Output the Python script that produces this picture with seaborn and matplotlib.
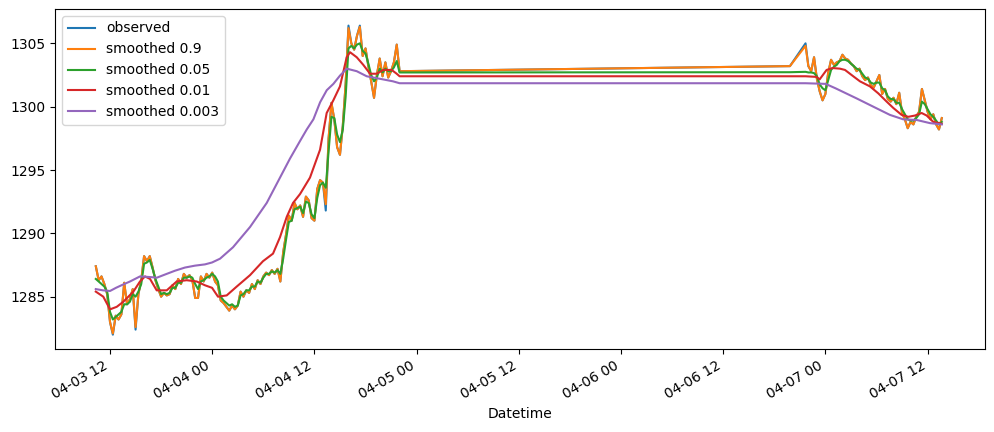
import pandas as pd
import matplotlib
matplotlib.use("Agg")
import matplotlib.pyplot as plt
import matplotlib.dates as mdates
import seaborn as sns

# ============================================================================
# DATA
# ============================================================================
BASE = pd.Timestamp("2019-04-03")

# 20-minute grid for observed / smoothed 0.9 / smoothed 0.05
seg1_times = pd.date_range("2019-04-03 10:20", "2019-04-04 22:00", freq="20min")
lone_time = pd.DatetimeIndex(["2019-04-06 19:50"])
seg2_times = pd.date_range("2019-04-06 21:40", "2019-04-07 13:40", freq="20min")

observed = [
    1287.4, 1286.3, 1286.6, 1286.0, 1285.2, 1283.0, 1282.0, 1283.5, 1283.2, 1283.6, 1286.1, 1284.4,
    1284.8, 1285.6, 1282.4, 1285.2, 1286.3, 1288.2, 1287.8, 1288.2, 1287.3, 1286.3, 1285.6, 1285.0,
    1285.3, 1285.1, 1285.2, 1285.9, 1285.6, 1286.4, 1286.0, 1286.8, 1286.5, 1286.7, 1286.3, 1284.9,
    1284.9, 1286.6, 1286.2, 1286.8, 1286.5, 1286.9, 1286.2, 1285.9, 1284.7, 1284.5, 1284.2, 1283.9,
    1284.3, 1284.0, 1284.3, 1285.4, 1285.0, 1285.5, 1285.3, 1286.0, 1285.6, 1286.3, 1286.0, 1286.6,
    1286.9, 1286.7, 1287.1, 1286.8, 1287.2, 1286.2, 1288.5, 1289.9, 1291.4, 1291.0, 1292.4, 1291.9,
    1292.2, 1291.3, 1292.9, 1292.6, 1291.2, 1291.0, 1293.5, 1294.2, 1294.0, 1291.8, 1297.5, 1300.3,
    1299.0, 1296.8, 1296.2, 1298.5, 1301.8, 1306.4, 1305.0, 1304.5, 1305.6, 1306.4, 1304.0, 1304.6,
    1303.2, 1302.0, 1300.7, 1302.5, 1303.8, 1302.4, 1303.5, 1302.3, 1302.8, 1303.5, 1304.9, 1302.8,
    1303.2,
    1305.0, 1303.2, 1302.8, 1303.9, 1302.2, 1301.2, 1300.5, 1301.0, 1302.7, 1303.7, 1303.3, 1303.5,
    1303.6, 1304.1, 1303.8, 1303.7, 1303.4, 1303.2, 1302.8, 1303.0, 1302.4, 1302.1, 1302.3, 1301.7,
    1301.5, 1302.0, 1302.5, 1301.0, 1301.4, 1300.6, 1300.4, 1300.7, 1300.2, 1301.1, 1299.5, 1299.0,
    1298.3, 1298.8, 1298.6, 1299.2, 1299.6, 1301.4, 1300.5, 1299.6, 1299.0, 1299.4, 1298.6, 1298.2,
    1299.1,
]

smoothed_09 = [
    1287.4, 1286.3, 1286.6, 1286.0, 1285.2, 1283.0, 1282.1, 1283.5, 1283.2, 1283.6, 1286.1, 1284.4,
    1284.8, 1285.6, 1282.6, 1285.2, 1286.3, 1288.2, 1287.8, 1288.2, 1287.3, 1286.3, 1285.6, 1285.0,
    1285.3, 1285.1, 1285.2, 1285.9, 1285.6, 1286.4, 1286.0, 1286.8, 1286.5, 1286.7, 1286.3, 1284.9,
    1284.9, 1286.6, 1286.2, 1286.8, 1286.5, 1286.9, 1286.2, 1285.9, 1284.7, 1284.5, 1284.2, 1283.9,
    1284.3, 1284.0, 1284.3, 1285.4, 1285.0, 1285.5, 1285.3, 1286.0, 1285.6, 1286.3, 1286.0, 1286.6,
    1286.9, 1286.7, 1287.1, 1286.8, 1287.2, 1286.2, 1288.5, 1289.9, 1291.4, 1291.0, 1292.4, 1291.9,
    1292.2, 1291.3, 1292.9, 1292.6, 1291.2, 1291.0, 1293.5, 1294.2, 1294.0, 1292.3, 1297.5, 1300.3,
    1299.0, 1296.8, 1296.2, 1298.5, 1301.8, 1306.2, 1305.0, 1304.5, 1305.6, 1306.3, 1304.0, 1304.6,
    1303.2, 1302.0, 1300.7, 1302.5, 1303.8, 1302.4, 1303.5, 1302.3, 1302.8, 1303.5, 1304.9, 1302.8,
    1303.2,
    1304.8, 1303.2, 1302.8, 1303.9, 1302.2, 1301.2, 1300.5, 1301.0, 1302.7, 1303.7, 1303.3, 1303.5,
    1303.6, 1304.1, 1303.8, 1303.7, 1303.4, 1303.2, 1302.8, 1303.0, 1302.4, 1302.1, 1302.3, 1301.7,
    1301.5, 1302.0, 1302.5, 1301.0, 1301.4, 1300.6, 1300.4, 1300.7, 1300.2, 1301.1, 1299.5, 1299.0,
    1298.3, 1298.8, 1298.6, 1299.2, 1299.6, 1301.4, 1300.5, 1299.6, 1299.0, 1299.4, 1298.6, 1298.2,
    1299.1,
]

smoothed_005 = [
    1286.4, 1286.2, 1286.0, 1285.8, 1285.4, 1283.8, 1283.2, 1283.4, 1283.6, 1283.8, 1284.4, 1284.4,
    1284.6, 1285.2, 1285.0, 1285.4, 1286.0, 1287.6, 1287.7, 1287.9, 1287.2, 1286.4, 1285.8, 1285.2,
    1285.3, 1285.2, 1285.3, 1285.7, 1285.7, 1286.1, 1286.1, 1286.5, 1286.5, 1286.6, 1286.5, 1286.0,
    1285.6, 1286.2, 1286.3, 1286.5, 1286.6, 1286.8, 1286.6, 1286.2, 1285.0, 1284.7, 1284.5, 1284.3,
    1284.4, 1284.2, 1284.3, 1285.1, 1285.2, 1285.5, 1285.5, 1285.8, 1285.8, 1286.2, 1286.1, 1286.5,
    1286.8, 1286.8, 1287.0, 1286.9, 1287.1, 1286.8, 1288.0, 1289.5, 1290.9, 1291.0, 1291.9, 1292.0,
    1292.1, 1291.6, 1292.5, 1292.4, 1291.5, 1291.2, 1292.8, 1293.8, 1294.0, 1293.6, 1296.5, 1299.2,
    1299.1, 1297.8, 1297.2, 1298.2, 1300.8, 1304.6, 1304.8, 1304.6, 1304.9, 1305.0, 1304.4, 1304.2,
    1303.4, 1302.5, 1302.0, 1302.3, 1303.0, 1302.7, 1303.0, 1302.8, 1302.8, 1303.1, 1303.6, 1302.7,
    1302.72,
    1302.75, 1302.7, 1302.7, 1302.65, 1302.4, 1301.75, 1301.45, 1301.3, 1302.1, 1302.9, 1303.15, 1303.3,
    1303.6, 1303.7, 1303.7, 1303.6, 1303.4, 1303.2, 1303.0, 1302.9, 1302.6, 1302.3, 1302.2, 1301.9,
    1301.8, 1301.9, 1301.9, 1301.45, 1301.3, 1300.8, 1300.6, 1300.6, 1300.3, 1300.3, 1299.8, 1299.4,
    1299.0, 1298.9, 1298.9, 1299.1, 1299.4, 1300.4, 1300.2, 1299.8, 1299.4, 1299.2, 1298.9, 1298.6,
    1298.8,
]

# slower smoothers, hours since 04-03 00:00
red_hours = [
    10.33, 11.21, 12.0, 12.79, 13.56, 14.74, 15.52, 16.11, 16.70, 17.48,
    18.66, 19.83, 21.0, 22.18, 23.15, 23.98, 24.68, 25.70, 26.88, 28.44,
    29.96, 31.14, 31.96, 32.75, 33.49, 34.31, 35.48, 36.66, 37.44, 38.22,
    39.0, 39.79, 40.18, 40.97, 41.74, 42.53, 43.31, 44.09, 45.07, 45.66, 46.0,
    91.83, 93.67, 94.97, 95.32, 96.14, 96.84, 97.71, 98.3, 99.27, 100.06,
    101.23, 102.21, 103.19, 103.97, 104.95, 105.73, 106.52, 107.30, 107.89, 108.66, 109.67,
]
smoothed_001 = [
    1285.4, 1285.0, 1284.0, 1284.2, 1284.6, 1285.4, 1286.2, 1286.6, 1286.4, 1285.5,
    1285.5, 1286.2, 1286.3, 1286.2, 1285.9, 1285.7, 1285.0, 1285.1, 1285.8, 1286.7,
    1287.8, 1288.4, 1289.7, 1291.3, 1292.4, 1293.1, 1294.4, 1296.6, 1299.5, 1300.5,
    1301.6, 1303.9, 1304.3, 1303.9, 1303.3, 1302.6, 1302.6, 1302.9, 1302.9, 1302.6, 1302.4,
    1302.4, 1302.4, 1302.35, 1302.15, 1302.9, 1303.05, 1303.0, 1302.9, 1302.4, 1302.0,
    1301.6, 1301.05, 1300.4, 1299.9, 1299.35, 1299.2, 1299.3, 1299.5, 1299.3, 1298.8, 1298.65,
]

purple_hours = [
    10.33, 11.18, 12.0, 12.7, 13.5, 14.35, 15.52, 16.7, 17.5, 18.46,
    19.63, 20.8, 21.98, 23.15, 23.98, 24.92, 26.44, 28.44, 30.4, 31.96,
    33.13, 34.32, 35.1, 35.88, 36.67, 37.45, 38.23, 39.0, 39.8, 40.97,
    42.14, 43.7, 45.23, 46.0,
    91.83, 93.67, 96.02, 97.19, 99.67, 101.62, 103.58, 105.14, 106.72, 108.28, 109.67,
]
smoothed_0003 = [
    1285.6, 1285.5, 1285.45, 1285.7, 1285.95, 1286.2, 1286.6, 1286.55, 1286.5, 1286.75,
    1287.05, 1287.3, 1287.45, 1287.55, 1287.7, 1288.0, 1288.9, 1290.5, 1292.4, 1294.4,
    1295.9, 1297.3, 1298.2, 1299.0, 1300.35, 1301.3, 1301.8, 1302.45, 1303.0, 1302.8,
    1302.4, 1302.2, 1302.0, 1301.85,
    1301.85, 1301.85, 1301.8, 1301.45, 1300.65, 1300.0, 1299.35, 1299.0, 1298.95, 1298.7, 1298.6,
]

# ============================================================================
# PLOT
# ============================================================================
grid_times = seg1_times.append(lone_time).append(seg2_times)
red_times = BASE + pd.to_timedelta(red_hours, unit="h")
purple_times = BASE + pd.to_timedelta(purple_hours, unit="h")

fig = plt.figure(figsize=(9.95, 4.32), dpi=100)
ax = fig.add_axes([55 / 995, 83 / 432, 930 / 995, 340 / 432])

series = [
    (grid_times, observed, "observed", "C0"),
    (grid_times, smoothed_09, "smoothed 0.9", "C1"),
    (grid_times, smoothed_005, "smoothed 0.05", "C2"),
    (red_times, smoothed_001, "smoothed 0.01", "C3"),
    (purple_times, smoothed_0003, "smoothed 0.003", "C4"),
]
for t, v, name, col in series:
    sns.lineplot(x=t, y=v, ax=ax, label=name, color=col, linewidth=1.5)

ax.set_xlim(BASE + pd.Timedelta(hours=5.54), BASE + pd.Timedelta(hours=114.74))
ax.set_ylim(1280.87, 1307.71)
ax.xaxis.set_major_locator(mdates.HourLocator(byhour=[0, 12]))
ax.xaxis.set_major_formatter(mdates.DateFormatter("%m-%d %H"))
for lbl in ax.get_xticklabels():
    lbl.set_rotation(30)
    lbl.set_ha("right")

ax.set_xlabel("Datetime")
ax.set_ylabel("")
ax.legend(loc="upper left")

fig.savefig("out.png", dpi=100)
